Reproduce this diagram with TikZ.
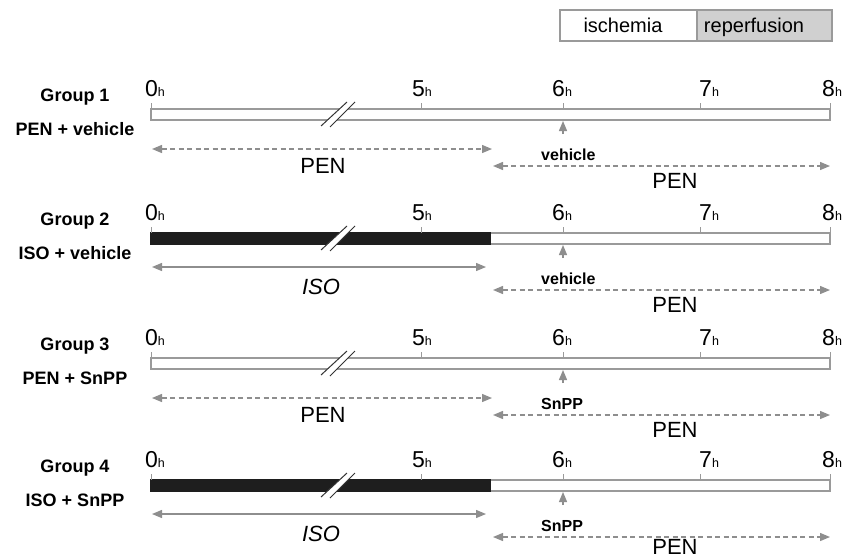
\documentclass[tikz,border=0pt]{standalone}
\usepackage{fontspec}
\setmainfont{Liberation Sans}
\usetikzlibrary{arrows.meta}
\definecolor{lg}{HTML}{9A9A9A}
\definecolor{ag}{HTML}{8E8E8E}
\definecolor{rep}{HTML}{D0D0D0}
\definecolor{blk}{HTML}{1E1E1E}
\definecolor{brkc}{HTML}{333333}
\tikzset{
  barbox/.style={draw=lg, line width=1.4pt, fill=white},
  tickline/.style={draw=lg, line width=1pt},
  tipA/.tip={Triangle[length=10pt,width=8pt]},
  arr/.style={draw=ag, line width=1.3pt, tipA-tipA},
  darr/.style={arr, dash pattern=on 5pt off 3.5pt},
  uparr/.style={draw=ag, line width=1.3pt, -tipA},
  brk/.style={draw=brkc, line width=1pt},
  hlab/.style={anchor=base west, inner sep=0pt},
  grpfont/.style={anchor=base, inner sep=0pt, font=\fontsize{18}{18}\selectfont\bfseries},
  agfont/.style={anchor=base west, inner sep=0pt, font=\fontsize{16}{16}\selectfont\bfseries},
  biglab/.style={anchor=base, inner sep=0pt, font=\fontsize{22}{22}\selectfont},
  leglab/.style={anchor=base, inner sep=0pt, font=\fontsize{20}{20}\selectfont},
}
\newcommand\hrlab[1]{{\fontsize{23}{23}\selectfont #1}{\fontsize{12.5}{12.5}\selectfont h}}
% #1 top y, #2 id, #3 subtitle, #4 agent, #5 iso flag
\newcommand\drawgroup[5]{%
  \node[grpfont] (g#2) at (75,#1-8) {Group #2};
  \node[grpfont] (s#2) at (75,#1+26) {#3};
  \draw[barbox] (151,#1) rectangle (830,#1+11);
  \ifnum#5=1
    \fill[blk] (150.3,#1-0.7) rectangle (491,#1+11.7);
  \fi
  \fill[white] (321,#1+17) -- (347,#1-7) -- (355,#1-7) -- (330,#1+18) -- cycle;
  \draw[brk] (321,#1+17) -- (347,#1-7);
  \draw[brk] (330,#1+18) -- (355,#1-7);
  \foreach \x in {151,421,563,700,830} \draw[tickline] (\x,#1-6) -- (\x,#1);
  \node[hlab] (ha#2) at (145,#1-13) {\hrlab{0}};
  \node[hlab] (hb#2) at (412,#1-13) {\hrlab{5}};
  \node[hlab] (hc#2) at (552,#1-13) {\hrlab{6}};
  \node[hlab] (hd#2) at (699,#1-13) {\hrlab{7}};
  \node[hlab] (he#2) at (822,#1-13) {\hrlab{8}};
  \ifnum#5=1
    \coordinate (la#2) at (152,#1+34);
    \coordinate (lb#2) at (486,#1+34);
    \draw[arr] (la#2) -- (lb#2);
    \node[biglab] (ll#2) at (321,#1+61) {\itshape ISO};
  \else
    \coordinate (la#2) at (152,#1+40);
    \coordinate (lb#2) at (492,#1+40);
    \draw[darr] (la#2) -- (lb#2);
    \node[biglab] (ll#2) at (323,#1+64) {PEN};
  \fi
  \coordinate (at#2) at (563,#1+25);
  \coordinate (ah#2) at (563,#1+12);
  \draw[uparr] (at#2) -- (ah#2);
  \node[agfont] (ag#2) at (541,#1+51) {#4};
  \coordinate (ra#2) at (493,#1+57);
  \coordinate (rb#2) at (830,#1+57);
  \draw[darr] (ra#2) -- (rb#2);
  \ifnum#2=4
    \node[biglab] (rl#2) at (675,#1+74) {PEN};
  \else
    \node[biglab] (rl#2) at (675,#1+79) {PEN};
  \fi
}
\begin{document}
\begin{tikzpicture}[x=1pt,y=-1pt]
\useasboundingbox (0,0) rectangle (861,557);
\fill[white] (0,0) rectangle (861,557);
% legend
\draw[draw=lg, line width=1.2pt, fill=white] (560,10) rectangle (697,41);
\draw[draw=lg, line width=1.2pt, fill=rep] (697,10) rectangle (832,41);
\node[leglab] (isch) at (623,32) {ischemia};
\node[leglab] (reperf) at (754,32) {reperfusion};
\drawgroup{109}{1}{PEN + vehicle}{vehicle}{0}
\drawgroup{233}{2}{ISO + vehicle}{vehicle}{1}
\drawgroup{358}{3}{PEN + SnPP}{SnPP}{0}
\drawgroup{480}{4}{ISO + SnPP}{SnPP}{1}
\end{tikzpicture}
\end{document}
